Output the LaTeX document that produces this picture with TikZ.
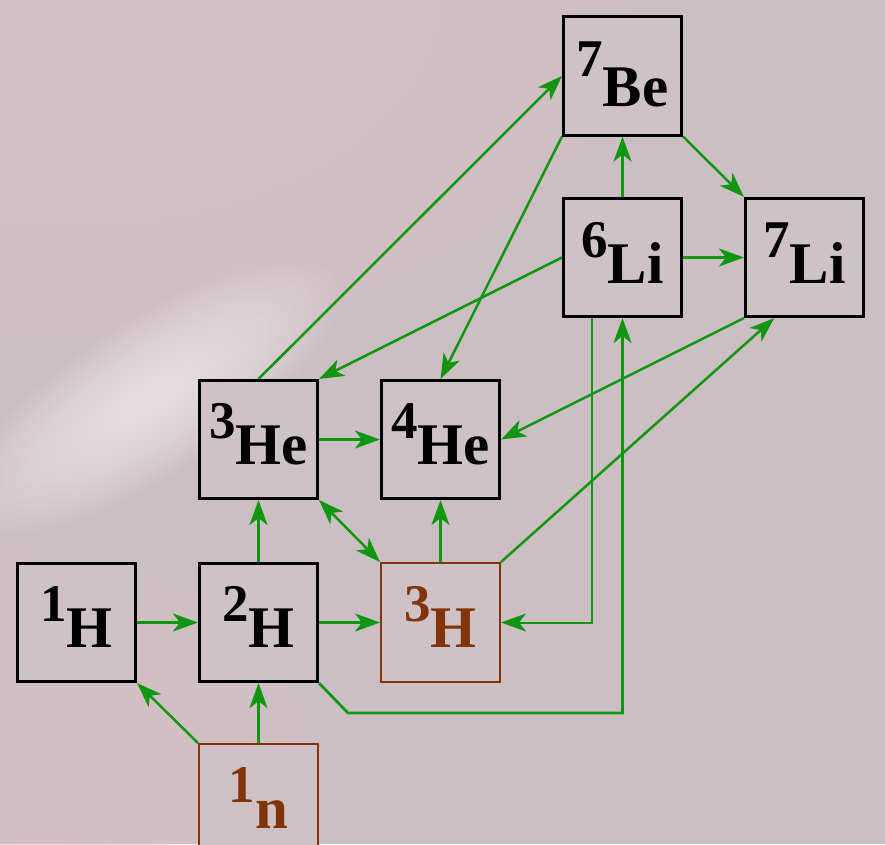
\documentclass[tikz,border=0pt]{standalone}
\usepackage{fontspec}
\setmainfont{Liberation Serif}
\usetikzlibrary{arrows.meta,calc}
\definecolor{bgc}{RGB}{204,191,195}
\definecolor{pinkc}{RGB}{230,200,205}
\definecolor{glowc}{RGB}{248,244,246}
\definecolor{boxc}{RGB}{207,194,198}
\definecolor{grn}{RGB}{16,150,16}
\definecolor{brn}{RGB}{130,52,8}
\newcommand\iso[3][26pt]{\raisebox{#1}{\fontsize{53}{53}\selectfont #2}#3}
\begin{document}
\begin{tikzpicture}[x=1pt,y=-1pt,
  box/.style={draw=black, line width=2.6pt, fill=boxc, minimum size=118.5pt, inner sep=0pt},
  bbox/.style={box, draw=brn, line width=2pt, minimum size=119pt},
  lbl/.style={anchor=base, inner sep=0pt, font=\fontsize{59}{59}\selectfont\bfseries},
  blbl/.style={lbl, text=brn},
  arr/.style={draw=grn, line width=2.5pt, -{Stealth[length=25pt,width=18pt,inset=7pt]}},
  darr/.style={arr, {Stealth[length=25pt,width=18pt,inset=7pt]}-{Stealth[length=25pt,width=18pt,inset=7pt]}}]
\useasboundingbox (0,0) rectangle (885,844);
\clip (0,0) rectangle (885,844);
% background
\fill[bgc] (0,0) rectangle (885,844);
\foreach \i in {1,...,20}
  \fill[pinkc, opacity=0.055] (60,0) ellipse [x radius={600pt-28pt*\i}, y radius={360pt-17pt*\i}];
\foreach \i in {1,...,16}
  \fill[pinkc, opacity=0.05] (0,800) ellipse [x radius={340pt-20pt*\i}, y radius={270pt-16pt*\i}];
\foreach \i in {1,...,22}
  \fill[glowc, opacity=0.055, rotate around={33:(150,398)}] (150,398) ellipse [x radius={230pt-10pt*\i}, y radius={80pt-3.5pt*\i}];
% boxes
\node[box] (Be7) at (622.5,76) {};
\node[box] (Li6) at (622.5,257.5) {};
\node[box] (Li7) at (804.5,257.5) {};
\node[box] (He3) at (258.5,439.5) {};
\node[box] (He4) at (440.5,439.5) {};
\node[box] (H1) at (76.5,622.5) {};
\node[box] (H2) at (258.5,622.5) {};
\node[bbox] (H3) at (440.5,622.5) {};
\node[bbox] (n1) at (258.5,803.5) {};
% labels
\node[lbl] (tBe7) at ($(Be7.center)+(0,30)$) {\iso[30pt]{7}{Be}};
\node[lbl] (tLi6) at ($(Li6.center)+(0,25.5)$) {\iso{6}{Li}};
\node[lbl] (tLi7) at ($(Li7.center)+(0,25.5)$) {\iso{7}{Li}};
\node[lbl] (tHe3) at ($(He3.center)+(0,24.5)$) {\iso{3}{He}};
\node[lbl] (tHe4) at ($(He4.center)+(0,24.5)$) {\iso{4}{He}};
\node[lbl] (tH1) at ($(H1.center)+(0,24.5)$) {\iso{1}{H}};
\node[lbl] (tH2) at ($(H2.center)+(0,24.5)$) {\iso{2}{H}};
\node[blbl] (tH3) at ($(H3.center)+(0,24.5)$) {\iso{3}{H}};
\node[blbl] (tn1) at ($(n1.center)+(0,24.5)$) {\iso{1}{n}};
% connectors
\coordinate (bend) at (348,713);
\draw[arr] (H1) -- (H2);
\draw[arr] (H2) -- (H3);
\draw[arr] (n1.north west) -- (H1.south east);
\draw[arr] (n1) -- (H2);
\draw[arr] (H2) -- (He3);
\draw[darr] (He3.south east) -- (H3.north west);
\draw[arr] (H3) -- (He4);
\draw[arr] (He3) -- (He4);
\draw[arr] (H3.north east) -- ($(Li7.south west)!0.25!(Li7.south east)$);
\draw[arr] (Li7.south west) -- (He4.east);
\draw[arr] (Li6.west) -- (He3.north east);
\draw[arr] (Be7.south west) -- (He4.north);
\draw[arr] (He3.north) -- (Be7.west);
\draw[arr] (Li6) -- (Be7);
\draw[arr] (Be7.south east) -- (Li7.north west);
\draw[arr] (Li6) -- (Li7);
\draw[arr, line width=2pt] ($(Li6.south west)!0.25!(Li6.south east)$) |- (H3.east);
\draw[arr, line width=2.8pt] (H2.south east) -- (bend) -| (Li6.south);
\end{tikzpicture}
\end{document}
